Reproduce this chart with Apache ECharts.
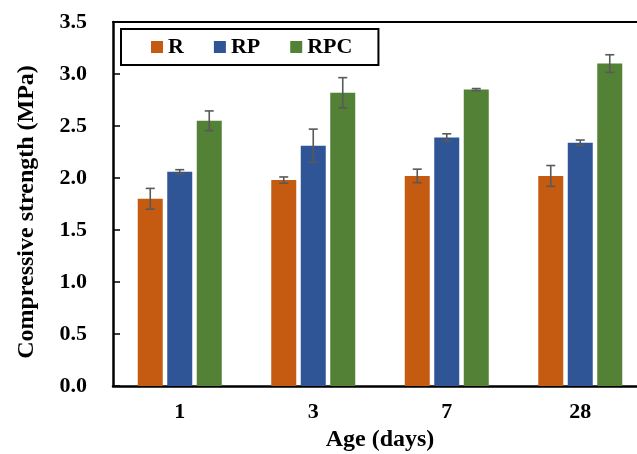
<!DOCTYPE html>
<html>
<head>
<meta charset="utf-8">
<script src="https://cdn.jsdelivr.net/npm/echarts@6/dist/echarts.min.js"></script>
<style>
  html, body { margin: 0; padding: 0; background: #fff; }
  #chart { width: 637px; height: 454px; }
</style>
</head>
<body>
<div id="chart"></div>
<script>
// 横轴 - 龄期
var ages = ['1', '3', '7', '28'];
// 抗压强度 (MPa)
var rValues = [1.80, 1.98, 2.02, 2.02];
var rpValues = [2.06, 2.31, 2.39, 2.34];
var rpcValues = [2.55, 2.82, 2.85, 3.10];
// 误差
var rErrors = [0.10, 0.03, 0.065, 0.10];
var rpErrors = [0.02, 0.16, 0.035, 0.025];
var rpcErrors = [0.095, 0.145, 0.01, 0.085];
// 纵轴刻度
var yTicks = [0, 0.5, 1.0, 1.5, 2.0, 2.5, 3.0, 3.5];

var font = 'Liberation Serif, Times New Roman, serif';
var colors = ['#C55A11', '#2F5597', '#538135'];
var barWidth = 25;
var barStep = 29.5; // 柱子中心间距

// 误差线
function errorSeries(values, errors, slot) {
    return {
        type: 'custom',
        name: 'err' + slot,
        z: 5,
        data: values.map(function (v, i) { return [i, v, errors[i]]; }),
        renderItem: function (params, api) {
            var i = api.value(0), v = api.value(1), e = api.value(2);
            var top = api.coord([i, v + e]);
            var bot = api.coord([i, v - e]);
            var x = top[0] + slot * barStep;
            var cap = 4.5;
            var style = { stroke: '#595959', lineWidth: 1.6 };
            return {
                type: 'group',
                children: [
                    { type: 'line', shape: { x1: x, y1: top[1], x2: x, y2: bot[1] }, style: style },
                    { type: 'line', shape: { x1: x - cap, y1: top[1], x2: x + cap, y2: top[1] }, style: style },
                    { type: 'line', shape: { x1: x - cap, y1: bot[1], x2: x + cap, y2: bot[1] }, style: style }
                ]
            };
        }
    };
}

var myChart = echarts.init(document.getElementById('chart'));
myChart.setOption({
    animation: false,
    grid: {
        left: 113, top: 22, width: 534, height: 364,
        outerBoundsMode: 'none'
    },
    legend: {
        data: ['R', 'RP', 'RPC'],
        left: 121, top: 29,
        orient: 'horizontal',
        icon: 'rect',
        itemWidth: 12, itemHeight: 12, itemGap: 30,
        padding: [7, 26, 7, 30],
        borderColor: '#000', borderWidth: 2,
        textStyle: { fontFamily: font, fontWeight: 'bold', fontSize: 22, color: '#000' }
    },
    xAxis: [{
        type: 'category',
        data: ages,
        name: 'Age (days)',
        nameLocation: 'middle',
        nameGap: 42,
        nameTextStyle: { fontFamily: font, fontWeight: 'bold', fontSize: 24, color: '#000' },
        axisLine: { lineStyle: { color: '#000', width: 2.5 } },
        axisTick: { show: false },
        axisLabel: { margin: 15, fontFamily: font, fontWeight: 'bold', fontSize: 22, color: '#000' }
    }, {
        // 顶部边框
        type: 'category',
        data: ages,
        position: 'top',
        axisLine: { show: true, lineStyle: { color: '#000', width: 2 } },
        axisTick: { show: false },
        axisLabel: { show: false }
    }],
    yAxis: {
        type: 'value',
        min: yTicks[0], max: yTicks[yTicks.length - 1], interval: 0.5,
        name: 'Compressive strength (MPa)',
        nameLocation: 'middle',
        nameGap: 74,
        nameTextStyle: { fontFamily: font, fontWeight: 'bold', fontSize: 24, color: '#000', padding: [0, 16, 0, 0] },
        axisLine: { show: true, lineStyle: { color: '#000', width: 2.5 } },
        axisTick: { show: true, inside: true, length: 7, lineStyle: { color: '#000', width: 1.5 } },
        splitLine: { show: false },
        axisLabel: {
            margin: 26, fontFamily: font, fontWeight: 'bold', fontSize: 22, color: '#000',
            formatter: function (v) { return v.toFixed(1); }
        }
    },
    series: [
        { name: 'R', type: 'bar', data: rValues, barWidth: barWidth, barGap: '18%', itemStyle: { color: colors[0] } },
        { name: 'RP', type: 'bar', data: rpValues, barWidth: barWidth, barGap: '18%', itemStyle: { color: colors[1] } },
        { name: 'RPC', type: 'bar', data: rpcValues, barWidth: barWidth, barGap: '18%', itemStyle: { color: colors[2] } },
        errorSeries(rValues, rErrors, -1),
        errorSeries(rpValues, rpErrors, 0),
        errorSeries(rpcValues, rpcErrors, 1)
    ]
});
</script>
</body>
</html>
